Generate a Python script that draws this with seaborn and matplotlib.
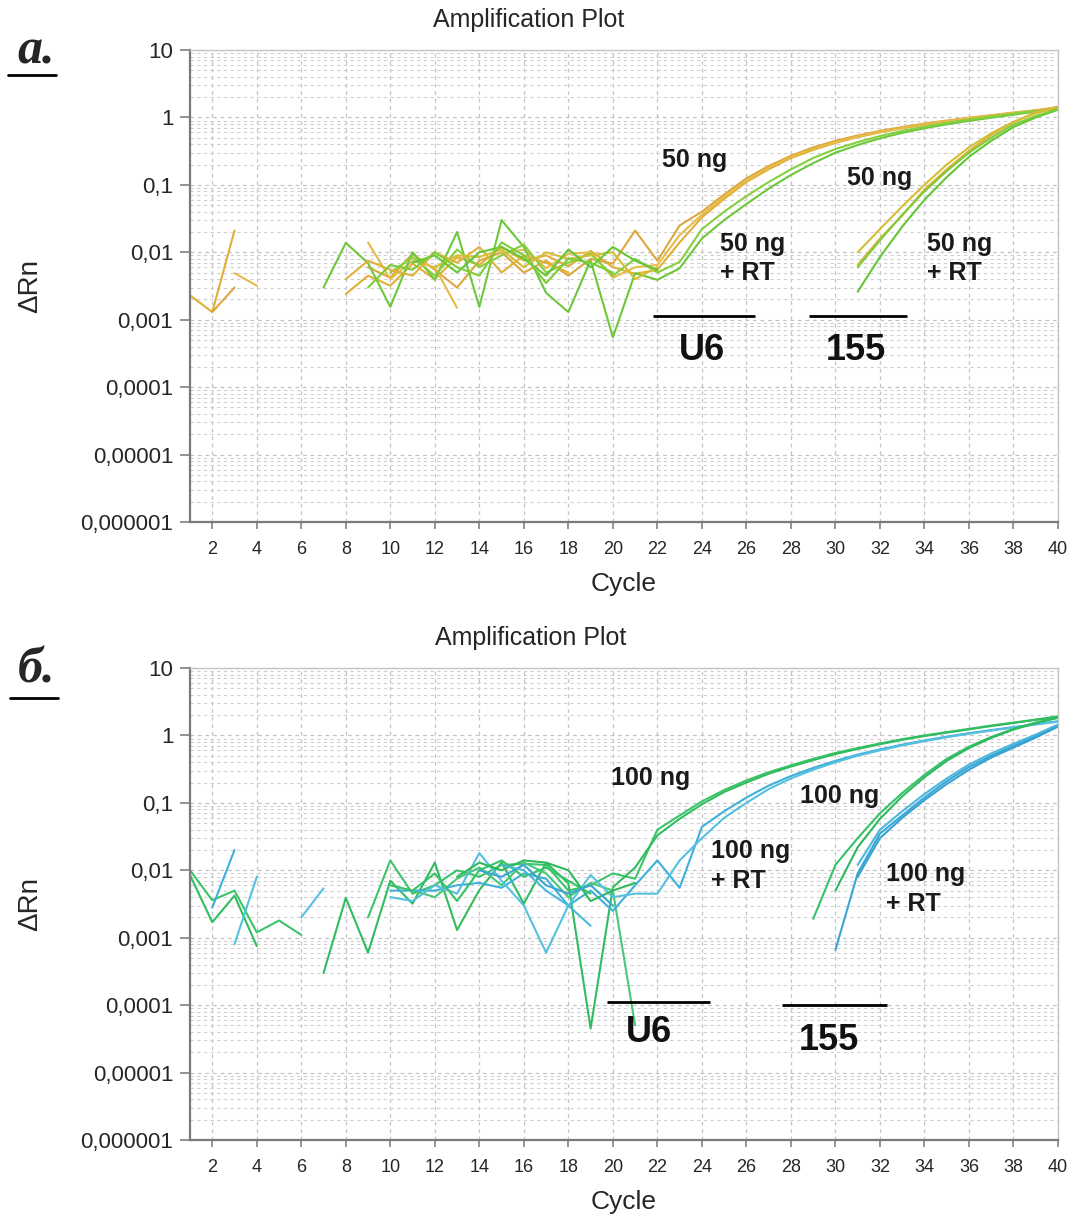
import numpy as np
import pandas as pd
import matplotlib
matplotlib.use("Agg")
import matplotlib.pyplot as plt
from matplotlib.lines import Line2D
import seaborn as sns

N = np.nan
cycles = list(range(1, 41))

# ---------------- panel a (50 ng) ----------------
a_u6_1 = [0.0023, 0.0013, 0.021, N, N, N, N, 0.0024, 0.0045, 0.0032,
          0.0068, 0.0040, 0.0085, 0.0065, 0.012, 0.0075, 0.0090, 0.0062, 0.0105, 0.0060,
          0.0048, 0.0055, 0.014, 0.033, 0.062, 0.11, 0.17, 0.25, 0.33, 0.42,
          0.51, 0.60, 0.69, 0.78, 0.87, 0.97, 1.06, 1.16, 1.26, 1.38]
a_u6_2 = [N, 0.0013, 0.0030, N, N, N, N, N, 0.0060, 0.0042,
          0.0095, 0.0055, 0.0030, 0.0075, 0.0100, 0.0050, 0.0075, 0.0045, 0.0080, 0.0068,
          0.021, 0.0075, 0.025, 0.040, 0.072, 0.125, 0.19, 0.27, 0.36, 0.45,
          0.54, 0.63, 0.72, 0.81, 0.90, 0.99, 1.08, 1.18, 1.28, 1.42]
a_u6_3 = [N, N, 0.0049, 0.0032, N, N, N, N, 0.014, 0.0040,
          0.0075, 0.0060, 0.0015, N, 0.0095, 0.0110, 0.0058, 0.0095, 0.0100, 0.0042,
          0.0060, 0.0065, 0.018, 0.036, 0.066, 0.115, 0.18, 0.26, 0.34, 0.43,
          0.52, 0.61, 0.70, 0.79, 0.88, 0.98, 1.07, 1.17, 1.27, 1.40]
a_u6_rt_1 = [N, N, N, N, N, N, 0.0030, 0.0138, 0.0069, 0.00155,
             0.010, 0.0039, 0.020, 0.00155, 0.030, 0.012, 0.0025, 0.0013, 0.0076, 0.00055,
             0.0049, 0.0039, 0.0058, 0.016, 0.030, 0.052, 0.088, 0.14, 0.21, 0.30,
             0.39, 0.49, 0.59, 0.69, 0.79, 0.89, 0.99, 1.10, 1.22, 1.34]
a_u6_rt_2 = [N, N, N, N, N, N, N, N, N, 0.0050,
             0.0085, 0.0045, 0.0110, 0.0060, 0.0090, 0.0130, 0.0050, 0.0070, 0.0095, 0.0045,
             0.0080, 0.0050, 0.0072, 0.022, 0.040, 0.068, 0.11, 0.17, 0.25, 0.34,
             0.43, 0.53, 0.63, 0.73, 0.83, 0.93, 1.03, 1.14, 1.25, 1.37]
a_155_1 = [N, N, N, N, N, N, N, 0.0040, 0.0075, 0.0055,
           0.0045, 0.0100, 0.0070, 0.0120, 0.0050, 0.0090, 0.0070, 0.0050, N, N,
           N, N, N, N, N, N, N, N, N, N,
           0.0065, 0.016, 0.035, 0.085, 0.17, 0.32, 0.55, 0.85, 1.20, 1.45]
a_155_2 = [N, N, N, N, N, N, N, N, N, N,
           N, 0.0060, 0.0090, 0.0085, 0.0110, 0.0060, 0.0100, 0.0080, 0.0090, 0.0100,
           0.0040, 0.0060, N, N, N, N, N, N, N, N,
           0.0100, 0.022, 0.048, 0.10, 0.20, 0.36, 0.58, 0.86, 1.15, 1.42]
a_155_rt_1 = [N, N, N, N, N, N, N, N, N, N,
              0.0070, 0.0090, 0.0050, 0.0100, 0.0120, 0.0080, 0.0045, 0.0110, 0.0060, 0.0120,
              0.0075, 0.0055, N, N, N, N, N, N, N, N,
              0.0026, 0.0085, 0.024, 0.060, 0.13, 0.26, 0.45, 0.72, 1.00, 1.30]
a_155_rt_2 = [N, N, N, N, N, N, N, N, 0.0030, 0.0065,
              0.0055, 0.0100, 0.0060, 0.0045, 0.0140, 0.0090, 0.0035, 0.0080, 0.0070, 0.0050,
              N, N, N, N, N, N, N, N, N, N,
              0.0060, 0.015, 0.036, 0.080, 0.16, 0.30, 0.50, 0.78, 1.05, 1.33]

# ---------------- panel b (100 ng) ----------------
b_u6_1 = [0.010, 0.0036, 0.0050, 0.0012, 0.0018, 0.0011, N, N, 0.0020, 0.014,
          0.0045, 0.0060, 0.0100, 0.0080, 0.0120, 0.0125, 0.0120, 0.0050, 0.0060, 0.0090,
          0.0075, 0.040, 0.065, 0.105, 0.155, 0.215, 0.285, 0.36, 0.45, 0.55,
          0.65, 0.76, 0.88, 1.00, 1.12, 1.25, 1.40, 1.55, 1.72, 1.92]
b_u6_2 = [0.0085, 0.0017, 0.0042, 0.00075, N, N, 0.0003, 0.0039, 0.0006, 0.0070,
          0.0032, 0.013, 0.0013, 0.0051, 0.013, 0.0032, 0.013, 0.0064, 0.000045, 0.0056,
          0.0110, 0.033, 0.058, 0.095, 0.145, 0.20, 0.27, 0.345, 0.43, 0.53,
          0.63, 0.74, 0.86, 0.98, 1.10, 1.23, 1.38, 1.53, 1.70, 1.88]
b_u6_3 = [N, N, N, N, N, N, N, N, N, N,
          0.0050, 0.0040, 0.0075, 0.0110, 0.0060, 0.0130, 0.0090, 0.0040, 0.0065, 0.0050,
          0.00005, N, N, N, N, N, N, N, N, N,
          N, N, N, N, N, N, N, N, N, N]
b_u6_rt_1 = [N, 0.0028, 0.020, N, N, N, N, N, N, 0.0050,
             0.0050, 0.0050, 0.0060, 0.0065, 0.0055, 0.0090, 0.0075, 0.0030, 0.0050, 0.0025,
             0.0060, 0.014, 0.0055, 0.044, 0.075, 0.12, 0.18, 0.25, 0.33, 0.42,
             0.52, 0.62, 0.73, 0.84, 0.96, 1.08, 1.20, 1.33, 1.47, 1.62]
b_u6_rt_2 = [N, N, 0.0008, 0.0080, N, 0.0020, 0.0054, N, N, 0.0040,
             0.0035, 0.0060, 0.0045, 0.018, 0.0070, 0.0030, 0.0006, 0.0030, 0.0085, 0.0040,
             0.0045, 0.0045, 0.014, 0.030, 0.060, 0.10, 0.16, 0.23, 0.31, 0.40,
             0.50, 0.60, 0.71, 0.82, 0.94, 1.06, 1.18, 1.31, 1.45, 1.60]
b_155_1 = [N, N, N, N, N, N, N, N, N, 0.0060,
           0.0050, 0.0090, 0.0035, 0.0100, 0.0140, 0.0080, 0.0110, 0.0070, 0.0045, N,
           N, N, N, N, N, N, N, N, 0.0019, 0.012,
           0.030, 0.070, 0.14, 0.26, 0.45, 0.68, 0.95, 1.25, 1.55, 1.85]
b_155_2 = [N, N, N, N, N, N, N, N, N, N,
           N, N, 0.0080, 0.0130, 0.0100, 0.0140, 0.0130, 0.0100, 0.0035, 0.0050,
           0.0065, N, N, N, N, N, N, N, N, 0.0050,
           0.022, 0.058, 0.125, 0.24, 0.42, 0.65, 0.92, 1.22, 1.52, 1.82]
b_155_rt_1 = [N, N, N, N, N, N, N, N, N, N,
              N, N, N, 0.0100, 0.0080, 0.0120, 0.0060, 0.0045, 0.0060, 0.0030,
              N, N, N, N, N, N, N, N, N, 0.00066,
              0.009, 0.035, 0.065, 0.12, 0.21, 0.34, 0.50, 0.70, 0.98, 1.40]
b_155_rt_2 = [N, N, N, N, N, N, N, N, N, N,
              N, N, N, N, 0.0120, 0.0100, 0.0050, 0.0030, 0.0015, N,
              N, N, N, N, N, N, N, N, N, N,
              0.012, 0.040, 0.075, 0.135, 0.23, 0.37, 0.54, 0.75, 1.03, 1.45]
b_155_rt_3 = [N, N, N, N, N, N, N, N, N, N,
              N, N, N, N, N, N, N, N, N, N,
              N, N, N, N, N, N, N, N, N, N,
              0.008, 0.030, 0.060, 0.11, 0.19, 0.31, 0.47, 0.66, 0.93, 1.35]

panel_a = {"a_u6_1": a_u6_1, "a_u6_2": a_u6_2, "a_u6_3": a_u6_3,
           "a_u6_rt_1": a_u6_rt_1, "a_u6_rt_2": a_u6_rt_2,
           "a_155_1": a_155_1, "a_155_2": a_155_2,
           "a_155_rt_1": a_155_rt_1, "a_155_rt_2": a_155_rt_2}
colors_a = {"a_u6_1": "#E2AE35", "a_u6_2": "#DCA73C", "a_u6_3": "#E6BC48",
            "a_u6_rt_1": "#6CC83A", "a_u6_rt_2": "#86CF3E",
            "a_155_1": "#E0B23A", "a_155_2": "#D4BE34",
            "a_155_rt_1": "#64C634", "a_155_rt_2": "#7ECC38"}
panel_b = {"b_u6_1": b_u6_1, "b_u6_2": b_u6_2, "b_u6_3": b_u6_3,
           "b_u6_rt_1": b_u6_rt_1, "b_u6_rt_2": b_u6_rt_2,
           "b_155_1": b_155_1, "b_155_2": b_155_2,
           "b_155_rt_1": b_155_rt_1, "b_155_rt_2": b_155_rt_2, "b_155_rt_3": b_155_rt_3}
colors_b = {"b_u6_1": "#3CC46A", "b_u6_2": "#32BC60", "b_u6_3": "#48C878",
            "b_u6_rt_1": "#3FB0DA", "b_u6_rt_2": "#55C0E0",
            "b_155_1": "#36C266", "b_155_2": "#2FB85E",
            "b_155_rt_1": "#3AA5D5", "b_155_rt_2": "#4AB8DD", "b_155_rt_3": "#35A2D2"}

ytick_vals = [1e-6, 1e-5, 1e-4, 1e-3, 1e-2, 1e-1, 1, 10]
ytick_labels = ["0,000001", "0,00001", "0,0001", "0,001", "0,01", "0,1", "1", "10"]
xtick_vals = list(range(2, 41, 2))

# annotations: (text, x, log10 y)
ann_a = [("50 ng", 22.2, -0.63), ("50 ng", 30.5, -0.90),
         ("50 ng\n+ RT", 24.8, -2.09), ("50 ng\n+ RT", 34.1, -2.09)]
big_a = [("U6", 24.0, -3.45, 21.8, 26.4, -2.95), ("155", 30.9, -3.45, 28.8, 33.2, -2.95)]
ann_b = [("100 ng", 19.9, -0.63), ("100 ng", 28.4, -0.90),
         ("100 ng\n+ RT", 24.4, -1.94), ("100 ng\n+ RT", 32.25, -2.28)]
big_b = [("U6", 21.6, -4.40, 19.75, 24.35, -3.955), ("155", 29.7, -4.52, 27.6, 32.3, -4.0)]


def long_df(panel):
    rows = []
    for name, vals in panel.items():
        seg = 0
        prev_nan = True
        for c, v in zip(cycles, vals):
            if np.isnan(v):
                prev_nan = True
                continue
            if prev_nan:
                seg += 1
            prev_nan = False
            rows.append({"cycle": c, "dRn": v, "trace": name, "seg": f"{name}_{seg}"})
    return pd.DataFrame(rows)


sns.set_style("white")
plt.rcParams["font.family"] = ["Liberation Sans", "DejaVu Sans"]

fig = plt.figure(figsize=(10.74, 12.2), dpi=100)
W, H = 1074, 1220


def make_axes(top_px, bottom_px):
    left, right = 190, 1058
    return fig.add_axes([left / W, 1 - bottom_px / H, (right - left) / W, (bottom_px - top_px) / H])


def style(ax):
    ax.set_yscale("log")
    ax.set_ylim(1e-6, 10)
    ax.set_xlim(1, 40)
    ax.set_yticks(ytick_vals)
    ax.set_yticklabels(ytick_labels, fontsize=16)
    ax.set_xticks(xtick_vals)
    ax.set_xticklabels([str(v) for v in xtick_vals], fontsize=13)
    ax.yaxis.set_minor_formatter(matplotlib.ticker.NullFormatter())
    ax.tick_params(axis="y", which="major", length=7, width=1.2, color="#808080", pad=5, left=True)
    ax.tick_params(axis="y", which="minor", length=0)
    ax.tick_params(axis="x", which="major", length=5, width=1.2, color="#808080", pad=9, bottom=True)
    ax.grid(True, which="major", axis="both", color="#c4c4c4", ls=(0, (3, 3)), lw=0.9)
    ax.grid(True, which="minor", axis="y", color="#cfcfcf", ls=(0, (3, 3)), lw=0.8)
    for s in ["left", "bottom"]:
        ax.spines[s].set_color("#7a7a7a")
        ax.spines[s].set_linewidth(1.6)
    for s in ["top", "right"]:
        ax.spines[s].set_color("#c4c4c4")
        ax.spines[s].set_linewidth(1.0)
    ax.set_xlabel("Cycle", fontsize=19)
    ax.xaxis.set_label_coords(0.5, -0.131)
    ax.xaxis.label.set_va("center")
    ax.set_ylabel("ΔRn", fontsize=20)
    ax.yaxis.set_label_coords(-0.184, 0.5)
    ax.yaxis.label.set_va("center")


def draw(ax, panel, colors, ann, big):
    df = long_df(panel)
    sns.lineplot(data=df, x="cycle", y="dRn", hue="trace", units="seg", estimator=None,
                 palette=colors, legend=False, lw=1.5, ax=ax, sort=True)
    style(ax)
    for txt, x, ly in ann:
        ax.text(x, 10 ** ly, txt, ha="left", va="center", fontsize=18, fontweight="bold",
                color="#1a1a1a", linespacing=1.3)
    for txt, x, ly, x0, x1, ll in big:
        ax.hlines(10 ** ll, x0, x1, color="black", lw=2)
        ax.text(x, 10 ** ly, txt, ha="center", va="center", fontsize=26, fontweight="bold",
                color="#111111")


ax_a = make_axes(50, 522)
draw(ax_a, panel_a, colors_a, ann_a, big_a)
ax_b = make_axes(668, 1140)
draw(ax_b, panel_b, colors_b, ann_b, big_b)

# titles
fig.text(529 / W, 1 - 20 / H, "Amplification Plot", ha="center", va="center", fontsize=18)
fig.text(531 / W, 1 - 638 / H, "Amplification Plot", ha="center", va="center", fontsize=18)

# panel letters
fig.text(36 / W, 1 - 52 / H, "a.", ha="center", va="center", fontsize=36,
         family=["Liberation Serif", "DejaVu Serif"], fontweight="bold", style="italic")
fig.add_artist(Line2D([8 / W, 56 / W], [1 - 75 / H, 1 - 75 / H], color="black", lw=2))
fig.text(37 / W, 1 - 670 / H, "б.", ha="center", va="center", fontsize=36,
         family=["Liberation Serif", "DejaVu Serif"], fontweight="bold", style="italic")
fig.add_artist(Line2D([10 / W, 58 / W], [1 - 698 / H, 1 - 698 / H], color="black", lw=2))

fig.savefig("out.png", dpi=100)
